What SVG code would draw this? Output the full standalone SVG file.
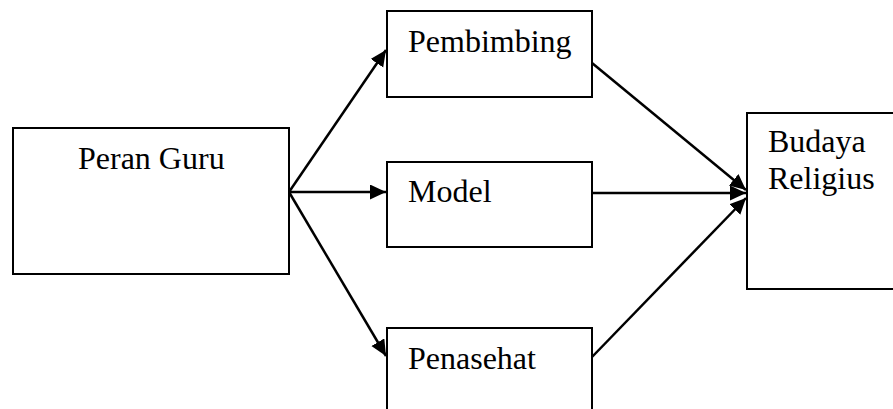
<svg xmlns="http://www.w3.org/2000/svg" width="893" height="409" viewBox="0 0 893 409">
  <defs>
    <marker id="arrow" markerUnits="userSpaceOnUse" markerWidth="18" markerHeight="16" refX="16" refY="7.5" orient="auto">
      <path d="M0,0 L16,7.5 L0,15 z" fill="#000"/>
    </marker>
    <style>
      .box { fill: #fff; stroke: #000; stroke-width: 2; }
      .label { font-family: "Liberation Serif", Tinos, "DejaVu Serif", "Noto Serif", serif; font-size: 32px; fill: #000; }
      .edge { stroke: #000; stroke-width: 2.5; fill: none; marker-end: url(#arrow); }
    </style>
  </defs>
  <rect width="893" height="409" fill="#fff"/>

  <g id="peran-guru">
    <rect class="box" x="13" y="128" width="276" height="146"/>
    <text class="label" x="78" y="169">Peran Guru</text>
  </g>

  <g id="pembimbing">
    <rect class="box" x="387" y="11" width="205" height="86"/>
    <text class="label" x="408" y="52">Pembimbing</text>
  </g>

  <g id="model">
    <rect class="box" x="387" y="162" width="205" height="85"/>
    <text class="label" x="408" y="202">Model</text>
  </g>

  <g id="penasehat">
    <rect class="box" x="387" y="328" width="205" height="100"/>
    <text class="label" x="408" y="369">Penasehat</text>
  </g>

  <g id="budaya-religius">
    <rect class="box" x="747" y="113" width="160" height="176"/>
    <text class="label" x="768" y="152">Budaya</text>
    <text class="label" x="768" y="189">Religius</text>
  </g>

  <g id="connectors">
    <line class="edge" x1="289" y1="192" x2="386" y2="50"/>
    <line class="edge" x1="289" y1="192" x2="386" y2="192"/>
    <line class="edge" x1="289" y1="192" x2="386" y2="356"/>
    <line class="edge" x1="592" y1="63" x2="746" y2="190"/>
    <line class="edge" x1="592" y1="193" x2="746" y2="193"/>
    <line class="edge" x1="592" y1="357" x2="746" y2="198"/>
  </g>
</svg>
